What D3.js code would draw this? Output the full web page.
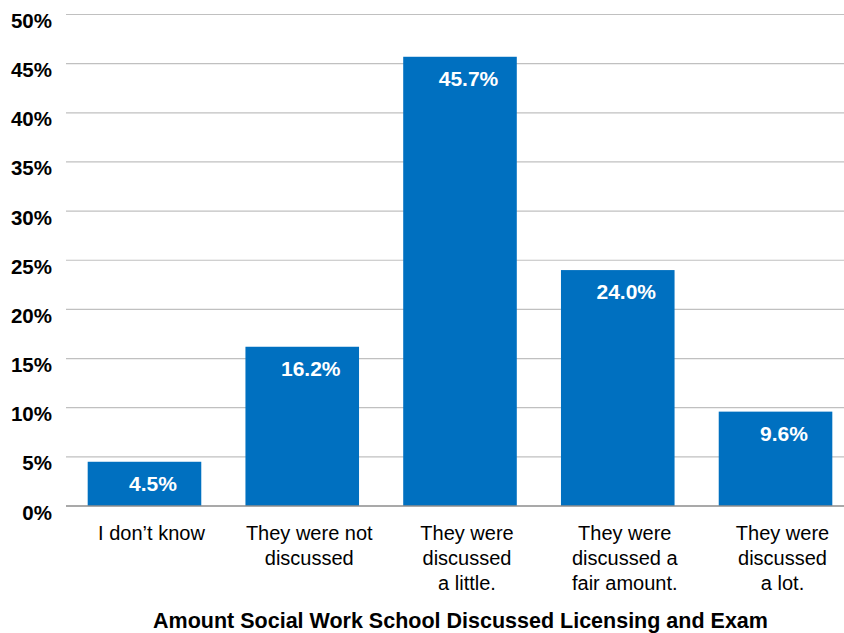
<!DOCTYPE html>
<html><head><meta charset="utf-8">
<script src="https://cdn.jsdelivr.net/npm/d3@7"></script>
<style>body{margin:0;background:#fff}svg{display:block}</style>
</head><body>
<svg id="c" width="844" height="633"></svg>
<script>
const categories = [["I don\u2019t know"],["They were not","discussed"],["They were","discussed","a little."],["They were","discussed a","fair amount."],["They were","discussed","a lot."]];
const values = [4.5, 16.2, 45.7, 24.0, 9.6];
const tickValues = [0,5,10,15,20,25,30,35,40,45,50];
const xTitle = "Amount Social Work School Discussed Licensing and Exam";

const svg = d3.select("#c");
const font = "'Liberation Sans', Arial, sans-serif";
const x = d3.scaleBand().domain(d3.range(values.length)).range([65.6, 854.4]).paddingInner(0.28).paddingOuter(0.14);
const y = d3.scaleLinear().domain([0,50]).range([506, 14.5]);

// gridlines
svg.append("g").selectAll("line").data(tickValues.filter(t=>t>0)).join("line")
  .attr("x1",66).attr("x2",844).attr("y1",d=>y(d)).attr("y2",d=>y(d))
  .attr("stroke","#c0c0c0").attr("stroke-width",1.2);

// y axis labels
const yAxis = d3.axisLeft(y).tickValues(tickValues).tickFormat(d=>d+"%").tickSize(0).tickPadding(0);
const ya = svg.append("g").attr("transform","translate(52,0)").call(yAxis);
ya.select(".domain").remove();
ya.selectAll("text").attr("font-family",font).attr("font-size",20.5).attr("font-weight","bold").attr("fill","#000").attr("dy",13);

// bars
svg.append("g").selectAll("rect").data(values).join("rect")
  .attr("x",(d,i)=>x(i)).attr("width",x.bandwidth())
  .attr("y",d=>y(d)).attr("height",d=>y(0)-y(d)).attr("fill","#0070C0");

// baseline
svg.append("line").attr("x1",66).attr("x2",844).attr("y1",y(0)).attr("y2",y(0)).attr("stroke","#8c8c8c").attr("stroke-width",1.5);

// value labels
svg.append("g").selectAll("text").data(values).join("text")
  .attr("x",(d,i)=>x(i)+x.bandwidth()/2+8.5).attr("y",d=>y(d)+29)
  .attr("text-anchor","middle").attr("font-family",font).attr("font-size",21).attr("font-weight","bold").attr("fill","#fff")
  .text(d=>d.toFixed(1)+"%");

// category labels
const cg = svg.append("g").selectAll("text").data(categories).join("text")
  .attr("text-anchor","middle").attr("font-family",font).attr("font-size",20).attr("fill","#000")
  .attr("transform",(d,i)=>`translate(${x(i)+x.bandwidth()/2+7},540)`);
cg.selectAll("tspan").data(d=>d).join("tspan").attr("x",0).attr("y",(d,j)=>j*25).text(d=>d);

// x title
svg.append("text").attr("x",460.5).attr("y",628).attr("text-anchor","middle").attr("font-family",font)
  .attr("font-size",21.5).attr("font-weight","bold").attr("fill","#000").text(xTitle);
</script>
</body></html>
